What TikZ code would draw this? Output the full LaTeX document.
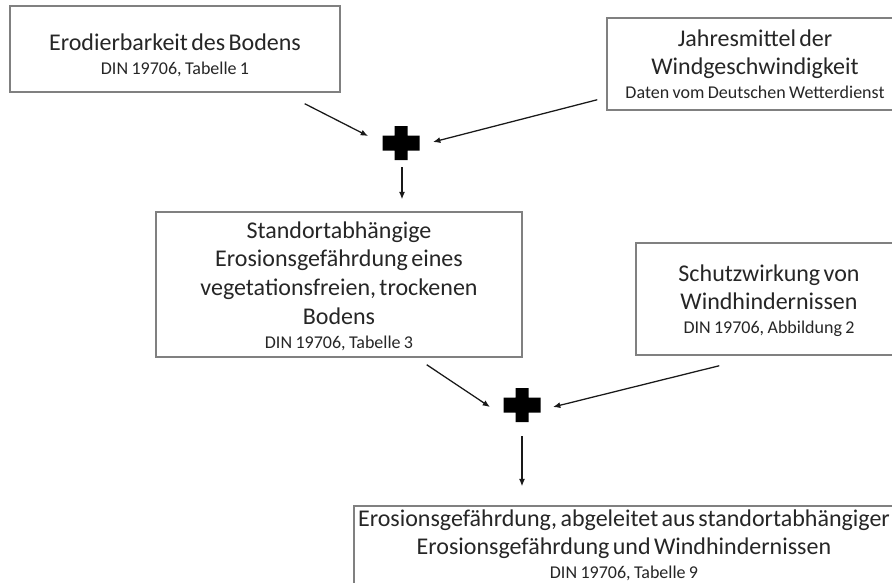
\documentclass[tikz,border=0pt]{standalone}
\usepackage{fontspec}
\setmainfont{Carlito}
\usetikzlibrary{arrows.meta,calc}
\newcommand{\tsp}{\spaceskip=0.14em\xspaceskip=0.14em\relax}
\newcommand{\subline}[1]{{\fontsize{13.5}{16}\selectfont #1}}
\begin{document}
\begin{tikzpicture}[x=0.75pt,y=-0.75pt,
  boxstyle/.style={draw={rgb,255:red,128;green,128;blue,128}, line width=1.1pt, rectangle, inner sep=0pt},
  txt/.style={align=center, inner sep=0pt, anchor=base, text=black!85, font=\fontsize{18}{21.5}\selectfont},
  conn/.style={-{Latex[length=5.5pt,width=4.5pt]}, line width=0.95pt, black!90},
  plusnode/.style={minimum width=27.75pt, minimum height=25.5pt, inner sep=0pt}
]
\useasboundingbox (0,0) rectangle (892,582);
\clip (0,0) rectangle (892,582);
\fill[white] (0,0) rectangle (892,582);

% boxes
\node[boxstyle, minimum width=247.5pt, minimum height=64.5pt] (b1) at (175,49) {};
\node[boxstyle, minimum width=222pt, minimum height=69pt] (b2) at (755,64) {};
\node[boxstyle, minimum width=274.5pt, minimum height=108.75pt] (b3) at (339,284.5) {};
\node[boxstyle, minimum width=199.5pt, minimum height=84pt] (b4) at (769,299) {};
\node[boxstyle, minimum width=409.5pt, minimum height=85.5pt] (b5) at (627,563) {};

% texts
\node[txt, text width=240pt] (t1) at (175,50) {\tsp Erodierbarkeit des Bodens\\[-3.5pt]\subline{DIN 19706, Tabelle 1}};
\node[txt, text width=215pt] (t2) at (755,46) {\tsp Jahresmittel der\\Windgeschwindigkeit\\[-3.5pt]\subline{Daten vom Deutschen Wetterdienst}};
\node[txt, text width=268pt] (t3) at (339,238) {\tsp Standortabhängige\\Erosionsgefährdung eines\\vegetationsfreien, trockenen\\Bodens\\[-3.5pt]\subline{DIN 19706, Tabelle 3}};
\node[txt, text width=195pt] (t4) at (769,281) {\tsp Schutzwirkung von\\Windhindernissen\\[-3.5pt]\subline{DIN 19706, Abbildung 2}};
\node[txt, text width=450pt] (t5) at (624,526) {\tsp Erosionsgefährdung, abgeleitet aus standortabhängiger\\Erosionsgefährdung und Windhindernissen\\[-3.5pt]\subline{DIN 19706, Tabelle 9}};

% plus signs
\node[plusnode] (p1) at (401,143) {};
\node[plusnode] (p2) at (522,405) {};
\foreach \p in {p1,p2}{
  \fill[black] ($(\p)+(-6.5,-17)$) -- ($(\p)+(6.5,-17)$) -- ($(\p)+(6.5,-7.5)$) -- ($(\p)+(18.5,-7.5)$)
    -- ($(\p)+(18.5,7.5)$) -- ($(\p)+(6.5,7.5)$) -- ($(\p)+(6.5,17)$) -- ($(\p)+(-6.5,17)$)
    -- ($(\p)+(-6.5,7.5)$) -- ($(\p)+(-18.5,7.5)$) -- ($(\p)+(-18.5,-7.5)$) -- ($(\p)+(-6.5,-7.5)$) -- cycle;
}

% connectors
\draw[conn] ($(b1.south east)+(-36,11)$) -- ($(p1)+(-33,-7)$);
\draw[conn] ($(b2.south west)+(-9,-11)$) -- ($(p1)+(32,-1)$);
\draw[conn] ($(p1)+(1,24)$) -- ($(p1 |- b3.north)+(1,-12)$);
\draw[conn] ($(b3.south east)+(-96,7)$) -- ($(p2)+(-32,2)$);
\draw[conn] ($(b4.south west)+(84,10)$) -- ($(p2)+(31,2)$);
\draw[conn] ($(p2)+(0,31)$) -- ($(p2 |- b5.north)+(0,-19)$);
\end{tikzpicture}
\end{document}
